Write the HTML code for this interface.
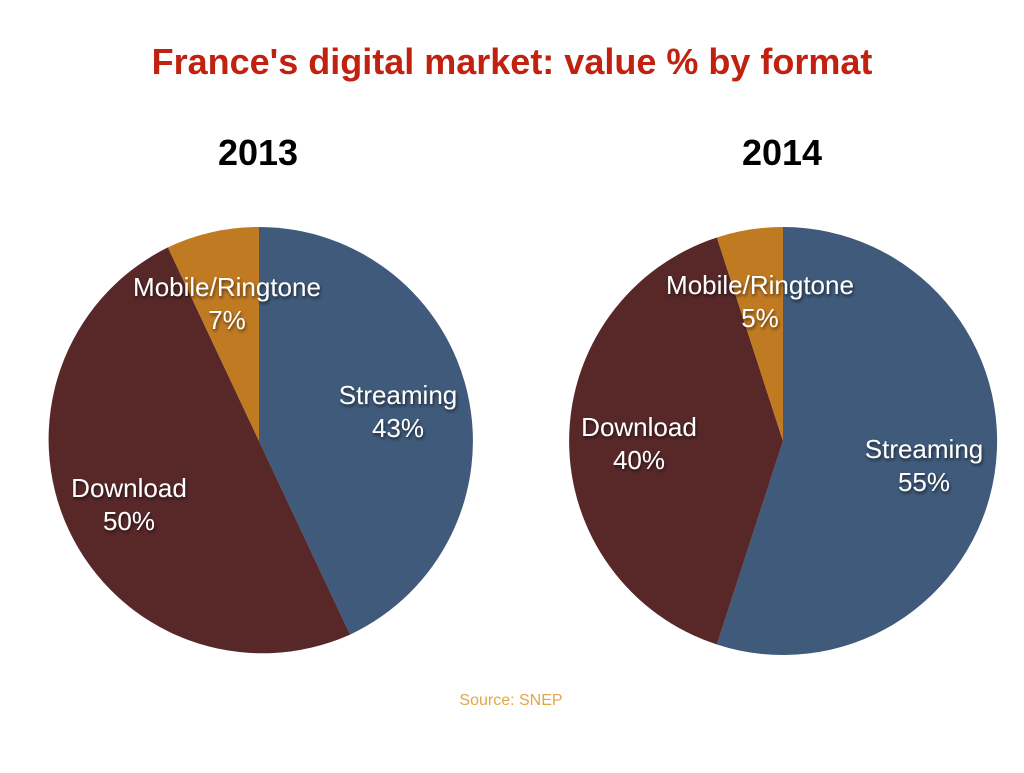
<!DOCTYPE html>
<html><head><meta charset="utf-8"><style>
body{margin:0;width:1024px;height:768px;background:#fff;overflow:hidden}
svg text{font-family:"Liberation Sans",sans-serif}
</style></head><body>
<svg width="1024" height="768" viewBox="0 0 1024 768">
<defs><filter id="s" x="-10%" y="-10%" width="120%" height="120%"><feDropShadow dx="1" dy="2" stdDeviation="1.5" flood-color="#000" flood-opacity="0.6"/></filter></defs>
<text x="512" y="74" text-anchor="middle" font-size="36" font-weight="bold" fill="#c1210f">France's digital market: value % by format</text>
<text x="258" y="165" text-anchor="middle" font-size="36" font-weight="bold" fill="#000">2013</text>
<text x="782" y="165" text-anchor="middle" font-size="36" font-weight="bold" fill="#000">2014</text>
<g>
<path d="M259,441 L259,227 A214,214 0 0 1 350.1,634.6 Z" fill="#3f5a7a"/>
<path d="M259,441 L350.1,634.6 A214,214 0 0 1 167.9,247.4 Z" fill="#582829"/>
<path d="M259,441 L167.9,247.4 A214,214 0 0 1 259,227 Z" fill="#c07a22"/>
</g>
<g>
<path d="M783,441 L783,227 A214,214 0 1 1 716.9,644.5 Z" fill="#3f5a7a"/>
<path d="M783,441 L716.9,644.5 A214,214 0 0 1 716.9,237.5 Z" fill="#582829"/>
<path d="M783,441 L716.9,237.5 A214,214 0 0 1 783,227 Z" fill="#c07a22"/>
</g>
<g fill="#fff" font-size="26" text-anchor="middle" filter="url(#s)">
<text x="227" y="296">Mobile/Ringtone</text><text x="227" y="329">7%</text>
<text x="398" y="404">Streaming</text><text x="398" y="437">43%</text>
<text x="129" y="497">Download</text><text x="129" y="530">50%</text>
<text x="760" y="294">Mobile/Ringtone</text><text x="760" y="327">5%</text>
<text x="639" y="436">Download</text><text x="639" y="469">40%</text>
<text x="924" y="458">Streaming</text><text x="924" y="491">55%</text>
</g>
<text x="511" y="705" text-anchor="middle" font-size="16" fill="#e3a548">Source: SNEP</text>
</svg>
</body></html>
